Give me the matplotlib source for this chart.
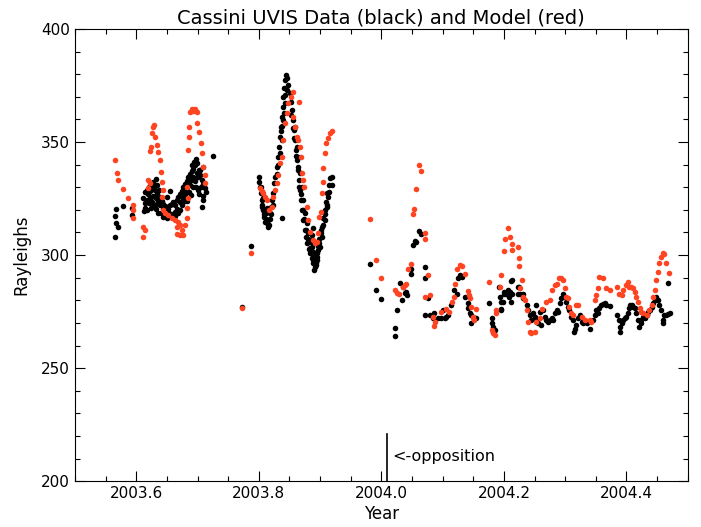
import matplotlib
matplotlib.use('Agg')
import matplotlib.pyplot as plt
from matplotlib.ticker import MultipleLocator

# UVIS data (black)
data_year = [2003.5664, 2003.5653, 2003.5664, 2003.5707, 2003.5653, 2003.5789, 2003.5936, 2003.5936,
             2003.6115, 2003.6142, 2003.6170, 2003.6197, 2003.6213, 2003.6224, 2003.6251, 2003.6268,
             2003.6278, 2003.6295, 2003.6311, 2003.6322, 2003.6333, 2003.6142, 2003.6170, 2003.6224,
             2003.6251, 2003.6278, 2003.6306, 2003.6344, 2003.6366, 2003.6387, 2003.6415, 2003.6441,
             2003.6469, 2003.6496, 2003.6523, 2003.6550, 2003.6578, 2003.6605, 2003.6632, 2003.6659,
             2003.6687, 2003.6714, 2003.6741, 2003.6768, 2003.6795, 2003.6822, 2003.6849, 2003.6876,
             2003.6904, 2003.6931, 2003.6958, 2003.6975, 2003.6996, 2003.7018, 2003.7040, 2003.7067,
             2003.7094, 2003.7122, 2003.7138, 2003.7067, 2003.7083, 2003.6431, 2003.6469, 2003.6496,
             2003.6523, 2003.6550, 2003.6578, 2003.6605, 2003.6632, 2003.6659, 2003.6714, 2003.6768,
             2003.6795, 2003.6833, 2003.6876, 2003.6931, 2003.6985, 2003.7040, 2003.7094, 2003.6550,
             2003.6496, 2003.6387, 2003.6360, 2003.6333, 2003.6833, 2003.6893, 2003.6958, 2003.7013,
             2003.6904, 2003.6942, 2003.7247,
             2003.612, 2003.615, 2003.618, 2003.620, 2003.624, 2003.627, 2003.630, 2003.633,
             2003.636, 2003.640, 2003.643, 2003.646, 2003.650, 2003.653, 2003.657, 2003.661,
             2003.664, 2003.668, 2003.672, 2003.675, 2003.679, 2003.683, 2003.686, 2003.690,
             2003.693, 2003.697, 2003.700, 2003.703, 2003.706, 2003.709,
             2003.7730, 2003.7866, 2003.8008, 2003.8008, 2003.8019, 2003.8029, 2003.8046, 2003.8046,
             2003.8073, 2003.8084, 2003.8100, 2003.8127, 2003.8155, 2003.8171, 2003.8117, 2003.8138,
             2003.8182, 2003.8193, 2003.8209, 2003.8225, 2003.8247, 2003.8263, 2003.8073, 2003.8372,
             2003.8291, 2003.8307, 2003.8329, 2003.8345, 2003.8356, 2003.8372, 2003.8388, 2003.8399,
             2003.8416, 2003.8427, 2003.8443, 2003.8465, 2003.8481, 2003.8454, 2003.8345, 2003.8372,
             2003.8399, 2003.8427, 2003.8508, 2003.8524, 2003.8541, 2003.8563, 2003.8579, 2003.8595,
             2003.8612, 2003.8628, 2003.8644, 2003.8661, 2003.8677, 2003.8693, 2003.8710, 2003.8726,
             2003.8748, 2003.8769, 2003.8791, 2003.8813, 2003.8835, 2003.8862, 2003.8889, 2003.8911,
             2003.8933, 2003.8954, 2003.8590, 2003.8617, 2003.8644, 2003.8671, 2003.8699, 2003.8726,
             2003.8753, 2003.8780, 2003.8808, 2003.8835, 2003.8862, 2003.8889, 2003.8916, 2003.8944,
             2003.8878, 2003.8900, 2003.8922, 2003.8851, 2003.8873, 2003.8889, 2003.8971, 2003.8987,
             2003.9009, 2003.9031, 2003.9052, 2003.9074, 2003.9096, 2003.9118, 2003.9139, 2003.9161,
             2003.9188, 2003.9199, 2003.8998, 2003.9025, 2003.9079, 2003.9107, 2003.9134,
             2003.853, 2003.856, 2003.858, 2003.861, 2003.864, 2003.866, 2003.869, 2003.872,
             2003.874, 2003.877, 2003.880, 2003.883, 2003.886, 2003.889, 2003.891, 2003.893,
             2003.890, 2003.892, 2003.895, 2003.897, 2003.899, 2003.902, 2003.905, 2003.908,
             2003.911, 2003.915, 2003.829, 2003.832, 2003.836, 2003.838, 2003.841, 2003.843,
             2003.806, 2003.809, 2003.812, 2003.815, 2003.818, 2003.820, 2003.823, 2003.803,
             2003.981, 2003.991, 2003.999, 2004.022, 2004.022, 2004.025, 2004.030, 2004.035,
             2004.038, 2004.042, 2004.041, 2004.034, 2004.048, 2004.048, 2004.052, 2004.055,
             2004.057, 2004.062, 2004.064, 2004.071, 2004.072, 2004.076, 2004.071, 2004.079,
             2004.086, 2004.085, 2004.093, 2004.098, 2004.104, 2004.106, 2004.109, 2004.101,
             2004.114, 2004.118, 2004.123, 2004.125, 2004.128, 2004.131, 2004.136, 2004.142,
             2004.142, 2004.144, 2004.147, 2004.150, 2004.152, 2004.155, 2004.147, 2004.176,
             2004.181, 2004.182, 2004.182, 2004.185, 2004.181, 2004.192, 2004.193, 2004.196,
             2004.196, 2004.200, 2004.204, 2004.207, 2004.212, 2004.214, 2004.208, 2004.212,
             2004.223, 2004.223, 2004.198, 2004.201, 2004.210, 2004.214, 2004.196,
             2004.2247, 2004.226, 2004.231, 2004.232, 2004.237, 2004.239, 2004.242, 2004.245,
             2004.248, 2004.250, 2004.252, 2004.253, 2004.256, 2004.259, 2004.261, 2004.264,
             2004.267, 2004.269, 2004.272, 2004.275, 2004.278, 2004.280, 2004.283, 2004.286,
             2004.288, 2004.291, 2004.294, 2004.297, 2004.299, 2004.302, 2004.305, 2004.307,
             2004.310, 2004.313, 2004.314, 2004.316, 2004.318, 2004.321, 2004.324, 2004.327,
             2004.329, 2004.335, 2004.340, 2004.346, 2004.348, 2004.351, 2004.354, 2004.356,
             2004.359, 2004.362, 2004.365, 2004.367, 2004.373,
             2004.385, 2004.388, 2004.389, 2004.390, 2004.392, 2004.394, 2004.397, 2004.400,
             2004.403, 2004.404, 2004.406, 2004.409, 2004.411, 2004.414, 2004.416, 2004.419,
             2004.420, 2004.423, 2004.424, 2004.427, 2004.430, 2004.433, 2004.435, 2004.438,
             2004.441, 2004.443, 2004.446, 2004.449, 2004.452, 2004.454, 2004.457, 2004.459,
             2004.460, 2004.462, 2004.465, 2004.468, 2004.471, 2004.468]
data_ray = [320.2, 317.2, 314.0, 312.5, 308.1, 321.7, 320.6, 317.7,
            325.1, 328.0, 328.8, 327.0, 330.2, 328.5, 331.0, 329.3,
            332.4, 330.2, 328.8, 333.5, 331.0, 322.9, 324.3, 325.1,
            323.6, 326.1, 325.5, 327.3, 328.8, 325.5, 324.0, 322.6,
            321.7, 321.1, 320.5, 322.1, 322.8, 323.6, 322.1, 324.3,
            325.5, 327.0, 328.5, 329.9, 331.4, 332.9, 334.4, 335.8,
            337.3, 338.2, 339.8, 342.3, 340.6, 337.6, 335.4, 333.2,
            331.4, 329.5, 328.0, 321.4, 324.3, 320.2, 319.0, 318.1,
            319.0, 317.5, 316.7, 318.1, 319.0, 320.5, 323.4, 325.2,
            327.0, 328.5, 331.0, 334.4, 336.1, 337.6, 338.8, 328.5,
            325.8, 322.1, 323.4, 324.9, 324.0, 326.4, 332.9, 334.4,
            339.8, 341.3, 343.8,
            319.5, 321.0, 320.0, 323.0, 321.0, 322.5, 321.5, 320.5,
            318.5, 318.5, 317.0, 317.5, 316.5, 317.0, 318.0, 316.5,
            317.5, 318.5, 320.0, 322.0, 324.0, 330.0, 328.0, 333.0,
            330.0, 330.0, 329.0, 327.0, 330.0, 326.0,
            277.1, 304.1, 334.6, 332.4, 330.2, 327.3, 324.3, 321.4,
            319.9, 317.0, 314.7, 314.0, 315.5, 313.3, 318.4, 320.6,
            318.4, 321.4, 324.3, 327.3, 331.7, 334.6, 325.1, 316.2,
            339.1, 343.5, 347.9, 352.4, 356.8, 361.2, 365.6, 370.1,
            373.7, 377.4, 379.6, 378.2, 375.2, 373.0, 345.0, 350.9,
            359.7, 367.1, 371.5, 367.8, 364.2, 359.7, 355.3, 350.9,
            346.5, 342.0, 337.6, 333.2, 328.8, 324.3, 319.9, 315.5,
            311.1, 308.1, 305.2, 302.9, 300.7, 298.5, 296.3, 294.8,
            296.3, 299.3, 356.8, 347.9, 343.5, 336.1, 330.2, 324.3,
            318.4, 314.0, 309.6, 306.6, 303.7, 301.5, 299.3, 297.8,
            297.8, 299.3, 300.7, 305.9, 308.8, 311.8, 302.2, 305.2,
            309.6, 312.5, 316.2, 319.9, 323.6, 327.3, 331.0, 333.9,
            334.6, 331.0, 303.7, 308.1, 315.5, 321.4, 325.8,
            362.0, 356.0, 352.0, 344.0, 339.0, 330.0, 327.0, 320.0,
            316.0, 311.0, 307.0, 303.0, 301.0, 299.0, 297.0, 295.5,
            293.5, 296.0, 301.0, 304.0, 307.0, 311.0, 313.5, 318.0,
            322.0, 328.0, 336.0, 340.0, 355.0, 357.0, 363.0, 371.0,
            322.0, 318.0, 316.0, 312.5, 316.0, 318.0, 322.0, 330.0,
            296.0, 284.5, 280.5, 267.6, 264.3, 275.7, 287.5, 286.0,
            283.3, 282.3, 283.8, 280.0, 293.8, 291.7, 304.4, 306.3,
            305.8, 310.6, 309.3, 294.6, 289.7, 280.8, 273.6, 273.6,
            274.2, 272.0, 272.0, 272.0, 272.0, 272.7, 273.5, 275.7,
            277.7, 284.5, 283.0, 289.7, 291.2, 290.4, 281.5, 278.6,
            276.4, 274.2, 273.5, 272.7, 272.0, 272.0, 270.0, 278.6,
            269.8, 268.3, 266.0, 266.8, 272.0, 285.7, 281.5, 279.3,
            276.0, 282.7, 282.7, 284.5, 288.6, 283.0, 281.5, 279.3,
            286.0, 282.7, 279.3, 283.8, 283.8, 289.0, 275.7,
            286.0, 283.0, 282.7, 280.8, 277.9, 275.7, 273.5, 271.2,
            274.2, 272.7, 277.9, 271.2, 269.8, 274.9, 269.0, 275.7,
            272.7, 271.2, 270.5, 271.2, 272.0, 271.2, 274.2, 275.7,
            274.9, 278.6, 280.8, 283.0, 281.5, 279.3, 277.1, 275.7,
            272.7, 271.2, 266.0, 267.5, 269.0, 272.0, 273.5, 270.5,
            269.8, 269.8, 267.5, 271.2, 273.5, 275.7, 274.2, 276.4,
            277.9, 278.3, 278.6, 277.9, 277.4,
            273.5, 271.2, 268.3, 266.0, 269.8, 271.2, 272.0, 272.7,
            274.2, 276.4, 277.9, 277.9, 277.1, 276.4, 274.2, 271.2,
            268.3, 269.8, 271.2, 272.7, 272.0, 273.5, 274.9, 275.7,
            277.1, 278.6, 280.0, 281.5, 280.0, 277.9, 275.7, 271.2,
            269.8, 273.5, 273.5, 273.9, 274.2, 287.8]

# model (red)
model_year = [2003.5653, 2003.5691, 2003.5707, 2003.5789, 2003.5870, 2003.5941, 2003.5941, 2003.5952,
              2003.6115, 2003.6142, 2003.6104, 2003.6197, 2003.6224, 2003.6197, 2003.6224, 2003.6235,
              2003.6251, 2003.6278, 2003.6295, 2003.6306, 2003.6333, 2003.6360, 2003.6387, 2003.6404,
              2003.6420, 2003.6441, 2003.6415, 2003.6441, 2003.6469, 2003.6523, 2003.6578, 2003.6632,
              2003.6687, 2003.6670, 2003.6714, 2003.6741, 2003.6659, 2003.6714, 2003.6757, 2003.6795,
              2003.6822, 2003.6833, 2003.6849, 2003.6822, 2003.6849, 2003.6866, 2003.6866, 2003.6877,
              2003.6904, 2003.6931, 2003.6958, 2003.6985, 2003.6996, 2003.7024, 2003.7056, 2003.7078,
              2003.7094, 2003.7122, 2003.7122,
              2003.7730, 2003.7866, 2003.8019, 2003.8046, 2003.8073, 2003.8100, 2003.8127, 2003.8171,
              2003.8209, 2003.8236, 2003.8263, 2003.8291, 2003.8318, 2003.8345, 2003.8372, 2003.8399,
              2003.8427, 2003.8454, 2003.8481, 2003.8519, 2003.8552, 2003.8661, 2003.8563, 2003.8590,
              2003.8617, 2003.8644, 2003.8671, 2003.8682, 2003.8699, 2003.8715, 2003.8737, 2003.8780,
              2003.8808, 2003.8835, 2003.8878, 2003.8916, 2003.8944, 2003.8965, 2003.8987, 2003.9009,
              2003.9025, 2003.9041, 2003.9052, 2003.9079, 2003.9090, 2003.9134, 2003.9161, 2003.9199,
              2003.981, 2003.991, 2003.999, 2004.022, 2004.025, 2004.029, 2004.035, 2004.038,
              2004.041, 2004.044, 2004.048, 2004.052, 2004.053, 2004.056, 2004.061, 2004.064,
              2004.071, 2004.072, 2004.076, 2004.079, 2004.071, 2004.085, 2004.087, 2004.086,
              2004.098, 2004.105, 2004.111, 2004.116, 2004.118, 2004.121, 2004.124, 2004.128,
              2004.131, 2004.136, 2004.142, 2004.143, 2004.144, 2004.147, 2004.150, 2004.151,
              2004.155, 2004.176, 2004.180, 2004.182, 2004.185, 2004.187, 2004.187, 2004.193,
              2004.196, 2004.200, 2004.202, 2004.206, 2004.210, 2004.213, 2004.214, 2004.223,
              2004.224, 2004.225, 2004.229, 2004.226,
              2004.231, 2004.234, 2004.237, 2004.239, 2004.242, 2004.245, 2004.250, 2004.253,
              2004.259, 2004.263, 2004.269, 2004.275, 2004.279, 2004.283, 2004.286, 2004.290,
              2004.294, 2004.297, 2004.299, 2004.302, 2004.305, 2004.307, 2004.310, 2004.313,
              2004.317, 2004.321, 2004.327, 2004.332, 2004.340, 2004.343, 2004.348, 2004.351,
              2004.354, 2004.356, 2004.362, 2004.367, 2004.373,
              2004.385, 2004.388, 2004.392, 2004.394, 2004.399, 2004.403, 2004.405, 2004.408,
              2004.411, 2004.414, 2004.416, 2004.419, 2004.422, 2004.424, 2004.427, 2004.433,
              2004.437, 2004.441, 2004.443, 2004.446, 2004.449, 2004.452, 2004.454, 2004.457,
              2004.460, 2004.462, 2004.465, 2004.469]
model_ray = [342.0, 336.1, 333.2, 329.2, 325.4, 322.1, 319.9, 316.2,
             312.5, 311.3, 308.1, 333.2, 331.7, 329.5, 346.2, 347.9,
             353.8, 356.8, 357.5, 352.4, 348.7, 345.7, 342.0, 336.9,
             332.4, 328.8, 325.8, 319.9, 318.7, 317.7, 316.2, 315.5,
             314.7, 312.5, 313.3, 311.0, 309.3, 308.8, 308.8, 313.3,
             316.2, 320.6, 325.1, 330.2, 346.5, 352.4, 356.5, 363.4,
             364.4, 363.9, 364.4, 363.4, 358.3, 354.6, 349.4, 345.0,
             339.1, 335.4, 331.7,
             276.8, 301.0, 329.5, 328.5, 327.3, 325.8, 324.3, 319.9,
             321.4, 325.8, 328.8, 331.7, 335.4, 340.6, 343.5, 350.9,
             358.3, 362.7, 367.1, 370.1, 372.3, 367.8, 361.2, 356.8,
             352.4, 350.9, 347.9, 343.5, 336.1, 333.2, 330.2, 321.4,
             315.5, 310.3, 306.6, 305.2, 305.9, 309.6, 317.0, 319.2,
             327.3, 332.4, 338.4, 345.0, 349.4, 351.6, 353.8, 355.0,
             315.8, 298.0, 290.0, 284.5, 283.3, 283.0, 286.0, 286.7,
             287.0, 293.7, 296.0, 318.0, 320.5, 329.4, 339.8, 337.3,
             309.9, 307.0, 291.0, 282.3, 281.5, 272.7, 270.5, 268.7,
             274.6, 276.0, 275.0, 279.3, 281.5, 287.0, 294.0, 295.6,
             295.0, 291.6, 284.0, 282.3, 280.8, 277.0, 272.4, 271.5,
             276.0, 288.0, 266.8, 265.4, 264.5, 275.7, 274.2, 286.0,
             291.0, 301.8, 307.0, 311.8, 307.8, 304.7, 302.2, 303.7,
             298.5, 295.3, 288.9, 285.3,
             281.5, 280.0, 275.7, 270.5, 266.0, 265.6, 266.0, 270.5,
             272.0, 276.0, 279.3, 280.0, 284.5, 286.7, 287.2, 290.0,
             289.7, 289.0, 285.3, 281.5, 280.8, 277.0, 274.2, 273.5,
             277.9, 277.9, 272.7, 271.2, 271.2, 270.5, 280.0, 282.3,
             285.3, 290.4, 289.7, 285.3, 284.5,
             286.0, 282.7, 282.3, 284.5, 286.7, 288.2, 286.0, 286.0,
             285.3, 283.8, 281.5, 279.3, 276.8, 274.9, 274.2, 273.5,
             275.7, 277.9, 281.5, 284.5, 289.0, 292.6, 296.3, 299.2,
             300.7, 300.4, 296.3, 292.2]

opposition = 2004.01

fig = plt.figure(figsize=(7.01, 5.27), dpi=100)
ax = fig.add_axes([0.107, 0.087, 0.874, 0.858])

ax.scatter(data_year, data_ray, s=16, color='black', linewidths=0, zorder=2)
ax.scatter(model_year, model_ray, s=16, color='#ff4422', linewidths=0, zorder=3)

ax.plot([opposition, opposition], [200, 221], color='black', lw=1.2)
ax.text(opposition + 0.007, 211, '<-opposition', fontsize=11.5, va='center', ha='left')

ax.set_xlim(2003.5, 2004.5)
ax.set_ylim(200, 400)
ax.xaxis.set_major_locator(MultipleLocator(0.2))
ax.xaxis.set_minor_locator(MultipleLocator(0.05))
ax.yaxis.set_major_locator(MultipleLocator(50))
ax.yaxis.set_minor_locator(MultipleLocator(10))
ax.xaxis.set_major_formatter(plt.FormatStrFormatter('%.1f'))
ax.tick_params(which='both', direction='in', top=True, right=True, labelsize=11, width=0.8)
ax.tick_params(which='major', length=7)
ax.tick_params(which='minor', length=3.5)
for sp in ax.spines.values():
    sp.set_linewidth(0.8)

ax.set_title('Cassini UVIS Data (black) and Model (red)', fontsize=14, pad=4)
ax.set_xlabel('Year', fontsize=12, labelpad=3)
ax.set_ylabel('Rayleighs', fontsize=12, labelpad=8)

fig.savefig('out.png', dpi=100)
